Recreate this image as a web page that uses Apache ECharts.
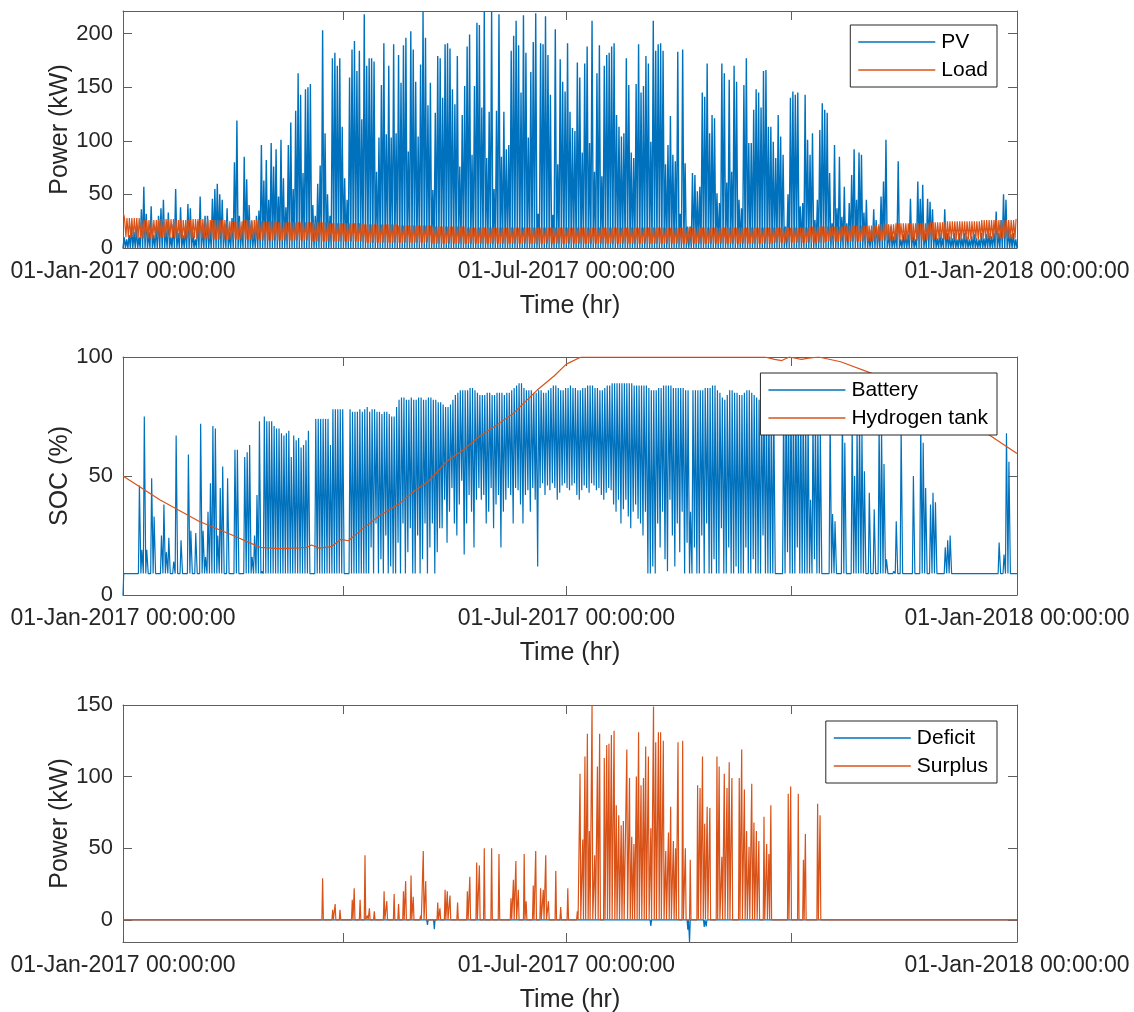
<!DOCTYPE html>
<html>
<head>
<meta charset="utf-8">
<script src="https://cdn.jsdelivr.net/npm/echarts@6/dist/echarts.min.js"></script>
<style>
  html, body { margin: 0; padding: 0; background: #fff; }
  #chart { width: 1134px; height: 1012px; }
</style>
</head>
<body>
<div id="chart"></div>
<script>
// x axis is day of year 2017 (0 = 01-Jan-2017 00:00, 365 = 01-Jan-2018 00:00)
const tickDays = [0, 90, 181, 273, 365];
const labelDays = [0, 181, 365];
const labelTexts = ['01-Jan-2017 00:00:00', '01-Jul-2017 00:00:00', '01-Jan-2018 00:00:00'];

const powerTicks = [0, 50, 100, 150, 200];
const socTicks = [0, 50, 100];
const balanceTicks = [0, 50, 100, 150];

// daily PV peak (kW), day 0..364
const pvPeak = [
  10, 8, 12, 20, 15, 18, 10, 36, 57, 32,
  15, 39, 12, 20, 30, 37, 45, 18, 33, 10,
  22, 55, 14, 38, 12, 20, 41, 37, 15, 8,
  25, 48, 20, 30, 30, 18, 46, 55, 60, 50,
  45, 22, 37, 15, 28, 80, 119, 30, 20, 85,
  64, 40, 25, 18, 30, 35, 96, 63, 82, 45,
  98, 76, 92, 48, 101, 65, 38, 96, 117, 55,
  128, 163, 143, 70, 148, 150, 153, 40, 30, 60,
  77, 203, 107, 50, 30, 177, 182, 170, 177, 113,
  65, 45, 159, 185, 193, 165, 184, 120, 218, 170, 177,
  177, 174, 71, 103, 152, 191, 106, 170, 103, 190,
  107, 180, 154, 189, 196, 90, 202, 185, 155, 104,
  171, 221, 196, 133, 154, 54, 126, 179, 177, 140,
  190, 191, 186, 148, 134, 179, 76, 124, 151, 188,
  199, 87, 151, 210, 208, 131, 221, 84, 127, 221,
  55, 128, 218, 85, 127, 92, 96, 184, 198, 212,
  189, 145, 217, 182, 103, 164, 192, 219, 32, 191,
  190, 216, 180, 143, 31, 204, 78, 176, 155, 146,
  191, 127, 112, 109, 173, 159, 89, 172, 188, 98,
  212, 71, 163, 189, 67, 170, 180, 182, 188, 191,
  124, 113, 104, 107, 177, 152, 89, 84, 153, 190,
  145, 151, 179, 172, 99, 212, 184, 190, 191, 184,
  78, 96, 123, 87, 81, 183, 32, 185, 79, 20,
  20, 70, 68, 53, 57, 145, 141, 172, 107, 124,
  121, 51, 42, 172, 163, 61, 157, 71, 170, 155,
  45, 37, 152, 177, 98, 98, 129,
  148, 145, 131, 165, 166, 113, 113, 99, 84, 124,
  104, 87, 20, 50, 140, 146, 143, 145, 39, 42,
  143, 101, 87, 107, 26, 45, 110, 135, 129, 126,
  70, 23, 96, 37, 85, 29, 57, 23, 42, 68,
  92, 45, 89, 87, 33, 45, 14, 17, 36, 26,
  20, 48, 62, 101, 14, 20, 11, 14, 81, 8,
  13, 14, 13, 46, 14, 8, 62, 46, 59, 14,
  46, 43, 36, 17, 9, 14, 9, 36, 14, 11,
  9, 14, 8, 14, 9, 14, 11, 8, 11, 13,
  9, 8, 14, 9, 13, 14, 11, 14, 34, 14,
  26, 50, 45, 17, 13, 14, 8
];

// weekly load range (kW), week 0..52
const loadMax = [
  28, 26, 27, 26, 27, 26, 25, 26, 25, 24,
  24, 24, 23, 23, 22, 22, 21, 21, 20, 20,
  19, 19, 19, 19, 19, 19, 19, 19, 19, 19,
  19, 19, 19, 19, 19, 19, 19, 19, 19, 19,
  20, 20, 21, 21, 22, 23, 23, 24, 25, 25,
  26, 26, 27
];
const loadMin = [
  10, 9, 10, 9, 9, 8, 8, 8, 7, 7,
  7, 6, 6, 6, 5, 5, 5, 5, 4, 4,
  4, 4, 4, 4, 4, 4, 4, 4, 4, 4,
  4, 4, 4, 4, 4, 4, 4, 4, 5, 5,
  5, 6, 6, 6, 7, 7, 7, 8, 8, 8,
  9, 9, 9
];

// battery SOC (%): evening high and morning low of each day
const batStart = 0;
const batMax = [
  9, 9, 9, 9, 9, 9, 46, 19, 75, 19,
  9, 49, 33, 9, 9, 25, 38, 18, 24, 9,
  14, 67, 9, 23, 9, 9, 59, 27, 9, 26,
  9, 72, 27, 16, 35, 47, 71, 70, 25, 45,
  54, 9, 49, 9, 9, 61, 61, 9, 9, 58,
  60, 63, 16, 25, 42, 73, 10, 75, 73, 73,
  73, 71, 70, 70, 68, 67, 68, 69, 58, 67,
  65, 66, 62, 63, 65, 69, 9, 9, 74, 74,
  74, 74, 74, 74, 63, 78, 78, 78, 78, 78,
  9, 9, 78, 77, 77, 77, 78, 77, 78, 79,
  77, 78, 78, 77, 77, 76, 77, 77, 76, 75,
  75, 79, 82, 83, 83, 82, 82, 83, 82, 82,
  83, 83, 82, 82, 83, 83, 82, 82, 81, 81,
  80, 79, 79, 80, 82, 84, 85, 86, 86, 86,
  86, 87, 87, 86, 85, 84, 84, 84, 85, 85,
  84, 84, 85, 85, 85, 84, 85, 85, 86, 87,
  88, 89, 89, 87, 86, 86, 86, 85, 85, 86,
  86, 85, 85, 86, 87, 88, 88, 87, 86, 86,
  87, 87, 88, 87, 87, 86, 86, 87, 87, 88,
  88, 88, 87, 87, 86, 86, 87, 88, 88, 89,
  89, 89, 89, 89, 89, 89, 89, 89, 88, 88,
  88, 88, 88, 88, 87, 86, 86, 86, 87, 87,
  88, 88, 88, 88, 87, 87, 87, 87, 87, 86,
  86, 35, 86, 86, 86, 86, 86, 87, 87, 87,
  88, 88, 86, 85, 83, 82, 84, 86, 86, 85,
  85, 84, 84, 85, 86, 86, 85, 84, 83, 82,
  83, 84, 82, 80, 79, 78, 9, 9, 9, 80,
  82, 84, 83, 82, 80, 79, 80, 78, 76, 75,
  40, 74, 76, 72, 70, 9, 9, 9, 75, 34,
  31, 9, 9, 78, 64, 9, 9, 72, 50, 70,
  75, 68, 52, 9, 43, 9, 36, 9, 72, 70,
  55, 15, 9, 9, 10, 31, 9, 70, 9, 9,
  9, 9, 50, 9, 9, 72, 64, 45, 9, 38,
  43, 39, 9, 9, 9, 20, 23, 25, 9, 9,
  9, 9, 9, 9, 9, 9, 9, 9, 9, 9,
  9, 9, 9, 9, 9, 9, 9, 22, 9, 17,
  68, 56, 9, 9, 9
];
const batMin = [
  9, 9, 9, 9, 9, 9, 9, 9, 9, 9,
  9, 9, 9, 9, 9, 9, 9, 9, 9, 9,
  9, 9, 9, 9, 9, 9, 9, 9, 9, 9,
  9, 9, 9, 9, 9, 9, 9, 9, 9, 9,
  9, 9, 9, 9, 9, 9, 9, 9, 9, 9,
  9, 9, 9, 9, 9, 9, 9, 9, 9, 9,
  9, 9, 9, 9, 9, 9, 9, 9, 9, 9,
  9, 9, 9, 9, 9, 9, 9, 9, 9, 9,
  9, 9, 9, 9, 9, 9, 9, 9, 9, 9,
  9, 9, 9, 9, 9, 9, 9, 9, 9, 9,
  9, 20, 9, 30, 9, 15, 9, 25, 9, 12,
  9, 9, 22, 9, 30, 9, 18, 28, 9, 9,
  25, 9, 15, 30, 9, 20, 30, 9, 18, 28,
  28, 40, 22, 35, 45, 30, 25, 38, 48, 17,
  30, 42, 35, 20, 40, 45, 40, 42, 30, 35,
  45, 28, 38, 42, 20, 35, 40, 45, 42, 30,
  45, 44, 38, 30, 42, 44, 35, 45, 40, 12,
  45, 47, 42, 46, 44, 47, 45, 40, 43, 46,
  47, 45, 44, 46, 47, 42, 40, 44, 46, 45,
  43, 47, 46, 44, 45, 42, 40, 43, 45, 44,
  38, 35, 40, 30, 36, 40, 33, 28, 35, 38,
  32, 30, 25, 35, 9, 9, 12, 9, 30, 20,
  35, 15, 10, 40, 25, 12, 30, 18, 35, 9,
  22, 9, 9, 20, 9, 9, 25, 9, 30, 9,
  9, 15, 9, 9, 28, 9, 9, 20, 9, 9,
  12, 9, 9, 9, 20, 9, 9, 15, 9, 9,
  9, 25, 9, 9, 9, 9, 9, 9, 9, 9,
  9, 18, 9, 9, 9, 20, 9, 9, 9, 9,
  9, 9, 15, 9, 9, 9, 9, 9, 9, 9,
  9, 9, 9, 9, 9, 9, 9, 9, 9, 9,
  9, 9, 9, 9, 9, 9, 9, 9, 9, 9,
  9, 9, 9, 9, 9, 9, 9, 9, 9, 9,
  9, 9, 9, 9, 9, 9, 9, 9, 9, 9,
  9, 9, 9, 9, 9, 9, 9, 9, 9, 9,
  9, 9, 9, 9, 9, 9, 9, 9, 9, 9,
  9, 9, 9, 9, 9, 9, 9, 9, 9, 9,
  9, 9, 9, 9, 9
];

// hydrogen tank SOC (%), [day, value]
const hydrogen = [
  [0, 50], [15, 40], [31, 31], [45, 25], [56, 20], [64, 19.5], [72, 19.8],
  [75, 20], [77, 21], [80, 19.7], [85, 20.3], [89, 23.4], [92, 22.8],
  [98, 28], [105, 33.5], [113, 38.5], [118, 43], [125, 48], [132, 56],
  [139, 61], [146, 67], [152, 71], [159, 76], [165, 82], [169, 86],
  [176, 92], [181, 97], [187, 100], [262, 100], [266, 99], [269, 98.5],
  [272, 100], [277, 99], [280, 99.5], [284, 100], [293, 98], [306, 93],
  [330, 80], [354, 67], [365, 59.5]
];

// surplus spikes (kW), [day, value]
const surplus = [
  [81.5, 29], [85.6, 7], [86.6, 11], [88.6, 7], [93.6, 14], [94.4, 22],
  [96.8, 14], [98.8, 45], [99.8, 3], [100.6, 8], [102.6, 6], [106.6, 20],
  [107.7, 13], [110.7, 18], [112.5, 11], [114.5, 20], [115.4, 27],
  [117.6, 31], [118.5, 16], [121.5, 3], [122.6, 48], [123.6, 27],
  [128.5, 12], [129.4, 8], [131.5, 21], [132.4, 20], [133.5, 17],
  [136.6, 12], [140.6, 20], [141.6, 30], [144.4, 40], [145.5, 38],
  [147.5, 50], [150.5, 50], [153.5, 46], [158.4, 15], [159.4, 28],
  [160.4, 41], [161.4, 21], [163.8, 46], [164.6, 13], [167.5, 24],
  [168.5, 48], [170.5, 22], [171.6, 21], [172.6, 45], [173.7, 13],
  [176.7, 34], [178.7, 9], [181.6, 22], [185.5, 6], [186.6, 102],
  [187.7, 56], [188.6, 114], [189.6, 130], [190.4, 62], [191.5, 150],
  [192.6, 45], [193.7, 107], [194.6, 130], [196.5, 113], [197.5, 122],
  [198.4, 123], [199.4, 129], [200.5, 132], [201.4, 80], [202.4, 73],
  [203.4, 66], [204.3, 69], [205.7, 119], [206.8, 99], [207.7, 58],
  [208.6, 53], [209.6, 100], [210.5, 131], [211.5, 94], [212.5, 99],
  [213.4, 121], [214.5, 114], [215.5, 64], [216.6, 149], [217.5, 124],
  [218.6, 131], [219.5, 131], [220.6, 125], [221.6, 48], [222.7, 61],
  [223.6, 79], [224.7, 55], [225.6, 50], [226.6, 124], [228.5, 125],
  [229.6, 50], [231.6, 42], [234.6, 94], [235.6, 92], [236.6, 114],
  [237.5, 67], [238.5, 79], [239.6, 78], [242.5, 114], [243.4, 107],
  [244.5, 44], [245.5, 102], [246.6, 92], [247.5, 110], [248.6, 99],
  [251.6, 99], [252.6, 119], [253.7, 91], [254.6, 62], [255.6, 51],
  [256.7, 95], [257.6, 68], [258.6, 62], [259.6, 55], [261.7, 72],
  [262.8, 53], [263.7, 46], [264.5, 80], [271.6, 88], [272.6, 93],
  [275.7, 88], [277.8, 42], [278.6, 60], [283.6, 81], [284.6, 73]
];

// deficit spikes (kW), [day, value]
const deficit = [
  [124.3, -3.5], [127.1, -6.5], [215.5, -4.2], [230.6, -7],
  [231.3, -15.5], [237.3, -5], [238.1, -4.6]
];

const BLUE = '#0072BD';
const ORANGE = '#D95319';
const TXT = '#262626';
const AXC = '#5e5e5e';
const FONT = 'Liberation Sans, Arial, sans-serif';

// build series points from the arrays above
function pvPoints() {
  const pts = [];
  pvPeak.forEach((p, d) => { pts.push([d, 0]); pts.push([d + 0.5, p]); });
  pts.push([365, 0]);
  return pts;
}
function loadPoints() {
  const pts = [];
  for (let d = 0; d < 365; d++) {
    const w = Math.floor(d / 7);
    pts.push([d + 0.2, loadMin[w]]);
    pts.push([d + 0.6, loadMax[w]]);
  }
  pts[0][1] = loadMax[0] + 4;
  return pts;
}
function batPoints() {
  const pts = [[0, batStart]];
  for (let d = 0; d < 365; d++) {
    pts.push([d + 0.3, batMin[d]]);
    pts.push([d + 0.7, batMax[d]]);
  }
  pts.push([365, batMin[364]]);
  return pts;
}
function spikePoints(events) {
  const pts = [[0, 0]];
  events.forEach(([d, v]) => { pts.push([d - 0.3, 0]); pts.push([d, v]); pts.push([d + 0.3, 0]); });
  pts.push([365, 0]);
  return pts;
}

const grids = [
  { left: 123, top: 11, width: 894, height: 237 },
  { left: 123, top: 357, width: 894, height: 238 },
  { left: 123, top: 705, width: 894, height: 237 }
].map(g => Object.assign({ show: false, outerBoundsMode: 'none', containLabel: false }, g));

function xAxesFor(gi) {
  const base = {
    type: 'value', gridIndex: gi, min: 0, max: 365,
    splitLine: { show: false },
    axisLine: { show: true, onZero: false, lineStyle: { color: AXC, width: 1 } },
    axisTick: { show: true, inside: true, length: 9, customValues: tickDays, lineStyle: { color: AXC } }
  };
  return [
    Object.assign({}, base, {
      position: 'bottom',
      name: 'Time (hr)', nameLocation: 'middle', nameGap: 46,
      nameTextStyle: { color: TXT, fontSize: 25, fontFamily: FONT },
      axisLabel: {
        show: true, margin: 12, customValues: labelDays, color: TXT, fontSize: 23, fontFamily: FONT,
        formatter: v => labelTexts[labelDays.indexOf(Math.round(v))] || ''
      }
    }),
    Object.assign({}, base, { position: 'top', axisLabel: { show: false } })
  ];
}

function yAxesFor(gi, name, min, max, ticks) {
  const base = {
    type: 'value', gridIndex: gi, min: min, max: max,
    splitLine: { show: false },
    axisLine: { show: true, onZero: false, lineStyle: { color: AXC, width: 1 } },
    axisTick: { show: true, inside: true, length: 9, customValues: ticks, lineStyle: { color: AXC } }
  };
  return [
    Object.assign({}, base, {
      position: 'left',
      name: name, nameLocation: 'middle', nameGap: 50, nameMoveOverlap: false,
      nameTextStyle: { color: TXT, fontSize: 25, fontFamily: FONT },
      axisLabel: { show: true, margin: 10, customValues: ticks, color: TXT, fontSize: 22, fontFamily: FONT }
    }),
    Object.assign({}, base, { position: 'right', axisLabel: { show: false } })
  ];
}

function line(name, color, xi, yi, data, width) {
  return {
    name: name, type: 'line', xAxisIndex: xi, yAxisIndex: yi, data: data,
    symbol: 'none', showSymbol: false, silent: true, animation: false,
    lineStyle: { color: color, width: width || 1 }, itemStyle: { color: color }
  };
}

function legendAt(top, names) {
  return {
    data: names, orient: 'vertical', right: 137, top: top, align: 'left',
    backgroundColor: '#fff', borderColor: TXT, borderWidth: 1, borderRadius: 0,
    padding: [5, 9, 5, 8], icon: 'rect', itemWidth: 77, itemHeight: 1.5, itemGap: 4,
    textStyle: { color: '#000', fontSize: 21, fontFamily: FONT, lineHeight: 24, padding: [0, 0, 0, 1] },
    selectedMode: false
  };
}

const chart = echarts.init(document.getElementById('chart'), null, { renderer: 'canvas' });
chart.setOption({
  backgroundColor: '#fff',
  animation: false,
  grid: grids,
  xAxis: [].concat(xAxesFor(0), xAxesFor(1), xAxesFor(2)),
  yAxis: [].concat(
    yAxesFor(0, 'Power (kW)', 0, 221, powerTicks),
    yAxesFor(1, 'SOC (%)', 0, 100, socTicks),
    yAxesFor(2, 'Power (kW)', -15.5, 150, balanceTicks)
  ),
  legend: [
    legendAt(25, ['PV', 'Load']),
    legendAt(373, ['Battery', 'Hydrogen tank']),
    legendAt(721, ['Deficit', 'Surplus'])
  ],
  series: [
    line('PV', BLUE, 0, 0, pvPoints(), 1.4),
    line('Load', ORANGE, 0, 0, loadPoints(), 1.2),
    line('Battery', BLUE, 2, 2, batPoints(), 1.2),
    line('Hydrogen tank', ORANGE, 2, 2, hydrogen, 1.2),
    line('Deficit', BLUE, 4, 4, spikePoints(deficit), 1.2),
    line('Surplus', ORANGE, 4, 4, spikePoints(surplus), 1.2)
  ]
});
</script>
</body>
</html>
